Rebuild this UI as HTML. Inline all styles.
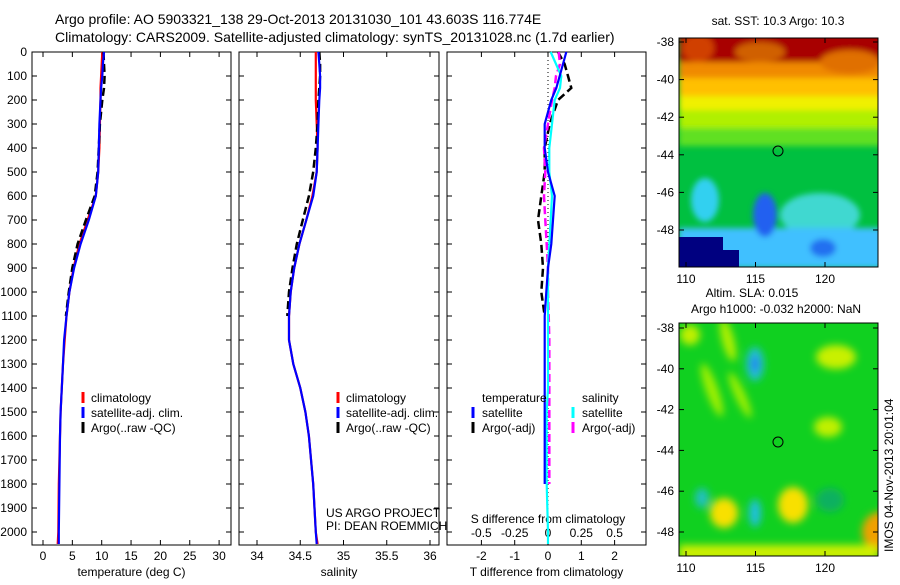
<!DOCTYPE html>
<html><head><meta charset="utf-8">
<style>
body{margin:0;background:#fff;}
svg text{font-family:"Liberation Sans",sans-serif;fill:#000;}
</style></head>
<body>
<svg id="fig" width="900" height="580" viewBox="0 0 900 580" xmlns="http://www.w3.org/2000/svg">
<defs>
<filter id="blur1" x="-20%" y="-20%" width="140%" height="140%"><feGaussianBlur stdDeviation="3"/></filter>
<filter id="blur2" x="-20%" y="-20%" width="140%" height="140%"><feGaussianBlur stdDeviation="4"/></filter>
<clipPath id="c1"><rect x="679" y="38" width="199" height="229"/></clipPath>
<clipPath id="c2"><rect x="679" y="323" width="199" height="233"/></clipPath>
</defs>
<text x="55" y="24" font-size="14">Argo profile: AO 5903321_138 29-Oct-2013 20131030_101 43.603S 116.774E</text>
<text x="55" y="42" font-size="14">Climatology: CARS2009. Satellite-adjusted climatology: synTS_20131028.nc (1.7d earlier)</text>

<g clip-path="url(#c1)">
 <rect x="679" y="38" width="199" height="229" fill="#00c040"/>
 <g filter="url(#blur1)">
  <rect x="679" y="30" width="210" height="50" fill="#a80000"/>
  <rect x="679" y="62" width="210" height="20" fill="#f08a00"/>
  <rect x="679" y="78" width="210" height="22" fill="#ffc000"/>
  <rect x="679" y="96" width="210" height="18" fill="#f0f000"/>
  <rect x="679" y="110" width="210" height="22" fill="#b0f000"/>
  <rect x="679" y="128" width="210" height="18" fill="#60e020"/>
  <ellipse cx="698" cy="48" rx="16" ry="14" fill="#d04000"/>
  <ellipse cx="760" cy="52" rx="25" ry="10" fill="#d06000"/>
  <ellipse cx="850" cy="62" rx="30" ry="12" fill="#e07000"/>
  <ellipse cx="705" cy="200" rx="14" ry="22" fill="#30d0f0"/>
  <ellipse cx="820" cy="215" rx="40" ry="22" fill="#40d8d0"/>
  <rect x="679" y="228" width="210" height="40" fill="#40c0ff"/>
  <ellipse cx="765" cy="215" rx="12" ry="22" fill="#2060f0"/>
  <ellipse cx="823" cy="248" rx="13" ry="9" fill="#2070f0"/>
 </g>
 <rect x="679" y="237" width="44" height="30" fill="#000080"/>
 <rect x="679" y="250" width="60" height="17" fill="#000080"/>
</g>
<rect x="679" y="38" width="199" height="229" fill="none" stroke="#000"/>
<circle cx="778" cy="151" r="5" fill="none" stroke="#000"/>
<text x="778" y="25" font-size="12" text-anchor="middle">sat. SST: 10.3 Argo: 10.3</text>

<g clip-path="url(#c2)">
 <rect x="679" y="323" width="199" height="233" fill="#10d020"/>
 <g filter="url(#blur2)">
  <ellipse cx="755" cy="364" rx="9" ry="17" fill="#20c0d0"/>
  <ellipse cx="755" cy="364" rx="4" ry="8" fill="#2080f0"/>
  <ellipse cx="728" cy="340" rx="6" ry="22" fill="#b0f000" transform="rotate(-15 728 340)"/>
  <ellipse cx="712" cy="390" rx="6" ry="28" fill="#a0f000" transform="rotate(-20 712 390)"/>
  <ellipse cx="740" cy="395" rx="5" ry="25" fill="#a0f000" transform="rotate(-25 740 395)"/>
  <ellipse cx="836" cy="357" rx="20" ry="12" fill="#c8f000"/>
  <ellipse cx="828" cy="427" rx="14" ry="10" fill="#c0f000"/>
  <ellipse cx="724" cy="513" rx="14" ry="15" fill="#f8e000"/>
  <ellipse cx="793" cy="505" rx="15" ry="18" fill="#f8e000"/>
  <ellipse cx="880" cy="532" rx="18" ry="20" fill="#f0a000"/>
  <ellipse cx="755" cy="513" rx="6" ry="14" fill="#20c0e0"/>
  <ellipse cx="702" cy="498" rx="7" ry="10" fill="#20c0c0"/>
  <ellipse cx="893" cy="502" rx="10" ry="10" fill="#20c0b0"/>
  <rect x="679" y="545" width="199" height="15" fill="#d0f000"/>
  <ellipse cx="830" cy="500" rx="14" ry="12" fill="#10b060"/>
  <ellipse cx="690" cy="335" rx="10" ry="10" fill="#c0f000"/>
 </g>
</g>
<rect x="679" y="323" width="199" height="233" fill="none" stroke="#000"/>
<circle cx="778" cy="442" r="5" fill="none" stroke="#000"/>
<text x="752" y="297" font-size="12" text-anchor="middle">Altim. SLA: 0.015</text>
<text x="776" y="313" font-size="12" text-anchor="middle">Argo h1000: -0.032 h2000: NaN</text>
<text x="0" y="0" font-size="12" transform="translate(893 552) rotate(-90)">IMOS 04-Nov-2013 20:01:04</text>

<text x="326" y="517" font-size="12">US ARGO PROJECT</text>
<text x="326" y="530" font-size="12">PI: DEAN ROEMMICH</text>
<g id="plots"></g>
</svg>
<script>
// ---- data ----
const depths = [0,50,100,150,200,300,400,500,600,700,800,900,1000,1100,1200,1300,1400,1500,1600,1800,2000,2050];
const tempClim = [10.1,10.0,9.9,9.8,9.8,9.7,9.6,9.4,9.0,7.6,6.2,5.2,4.5,4.0,3.7,3.4,3.2,3.0,2.9,2.7,2.6,2.5];
const tempSat  = [10.4,10.2,10.1,9.9,9.8,9.6,9.5,9.4,9.0,7.8,6.4,5.3,4.5,4.0,3.6,3.4,3.2,3.0,2.9,2.8,2.7,2.7];
const tempArgo = [10.3,10.4,10.5,10.4,10.1,9.7,9.5,9.3,8.8,7.3,5.9,5.0,4.4,3.9];
const salClim = [34.68,34.68,34.68,34.68,34.68,34.69,34.70,34.69,34.64,34.57,34.49,34.43,34.39,34.37,34.37,34.42,34.50,34.56,34.60,34.65,34.68,34.70];
const salSat  = [34.71,34.72,34.73,34.73,34.72,34.71,34.70,34.69,34.65,34.57,34.49,34.43,34.39,34.37,34.37,34.42,34.50,34.56,34.60,34.65,34.68,34.69];
const salArgo = [34.72,34.73,34.73,34.72,34.71,34.70,34.68,34.65,34.60,34.53,34.46,34.41,34.37,34.35];
const dT_sat  = [0.55,0.45,0.35,0.25,0.1,-0.1,-0.1,0.0,0.2,0.15,0.1,0.0,-0.05,-0.1,-0.1,-0.1,-0.1,-0.1,-0.1,-0.1];
const dT_argo = [0.3,0.5,0.6,0.7,0.3,0.05,-0.1,-0.1,-0.2,-0.3,-0.2,-0.15,-0.2,-0.1];
const dS_sat  = [0.02,0.06,0.1,0.09,0.05,0.03,0.01,0.01,0.03,0.02,0.01,0.0,0.0,0.0,0.0,0.0,0.0,-0.01,-0.01,-0.01,0.0,0.0];
const dS_argo = [0.08,0.09,0.06,0.05,0.03,0.0,-0.03,-0.02,-0.03,-0.02,-0.01,0.0,0.0,0.005,0.01,0.01,0.01,0.01,0.01,0.01];
const depthTicks = [0,100,200,300,400,500,600,700,800,900,1000,1100,1200,1300,1400,1500,1600,1700,1800,1900,2000];
const tempTicks = [0,5,10,15,20,25,30];
const salTicks = [34,34.5,35,35.5,36];
const tdTicks = [-2,-1,0,1,2];
const sdTicks = [-0.5,-0.25,0,0.25,0.5];
const latTicks = [-38,-40,-42,-44,-46,-48];
const lonTicks = [110,115,120];
// ---- axes ----
const yD = d => 52 + d*0.24;
const xT = v => 43 + v*5.87;
const xS = v => 257 + (v-34)*86.5;
const xTD = v => 548 + v*33.3;
const xSD = v => 548 + v*133.2;
const NS='http://www.w3.org/2000/svg';
const root=document.getElementById('plots');
function mk(tag,attrs,parent){const e=document.createElementNS(NS,tag);for(const k in attrs)e.setAttribute(k,attrs[k]);(parent||root).appendChild(e);return e;}
function line(xs,ds,xf,color,dash,name){
  const pts=xs.map((v,i)=>xf(v).toFixed(1)+','+yD(ds[i]).toFixed(1)).join(' ');
  const e=mk('polyline',{points:pts,fill:'none',stroke:color,'stroke-width':dash?2.5:2.2});
  if(dash)e.setAttribute('stroke-dasharray',dash);
  
  
}
function panel(x0,x1,xticks,xf,fmt,label,name){
  const g=mk('g',{});
  
  
  mk('rect',{x:x0,y:52,width:x1-x0,height:493,fill:'none',stroke:'#000'},g);
  depthTicks.forEach(d=>{mk('line',{x1:x0,x2:x0+5,y1:yD(d),y2:yD(d),stroke:'#000'},g);mk('line',{x1:x1-5,x2:x1,y1:yD(d),y2:yD(d),stroke:'#000'},g);});
  xticks.forEach(v=>{const x=xf(v);mk('line',{x1:x,x2:x,y1:52,y2:57,stroke:'#000'},g);mk('line',{x1:x,x2:x,y1:540,y2:545,stroke:'#000'},g);
    const t=mk('text',{x:x,y:560,'font-size':12,'text-anchor':'middle'},g);t.textContent=fmt(v);});
  const t=mk('text',{x:(x0+x1)/2,y:576,'font-size':12,'text-anchor':'middle'},g);t.textContent=label;
  return g;
}
panel(32,231,tempTicks,xT,v=>v,'temperature (deg C)','temperature-panel');
panel(239,439,salTicks,xS,v=>v,'salinity','salinity-panel');
panel(447,646,tdTicks,xTD,v=>v,'T difference from climatology','difference-panel');
depthTicks.forEach(d=>{const e=mk('text',{x:27,y:yD(d)+4,'font-size':12,'text-anchor':'end'});e.textContent=d;
  });
mk('line',{x1:xTD(0),x2:xTD(0),y1:52,y2:545,stroke:'#000','stroke-dasharray':'1,3'});
sdTicks.forEach(v=>{const t=mk('text',{x:xSD(v),y:537,'font-size':12,'text-anchor':'middle'});t.textContent=v;
  });
{const t=mk('text',{x:548,y:523,'font-size':12,'text-anchor':'middle'});t.textContent='S difference from climatology';
 }
// series
line(tempClim,depths,xT,'#ff0000',null,'temp-climatology');
line(tempArgo,depths.slice(0,tempArgo.length),xT,'#000','8,4','temp-argo');
line(tempSat,depths,xT,'#0000ff',null,'temp-satellite');
line(salClim,depths,xS,'#ff0000',null,'sal-climatology');
line(salArgo,depths.slice(0,salArgo.length),xS,'#000','8,4','sal-argo');
line(salSat,depths,xS,'#0000ff',null,'sal-satellite');
line(dT_argo,depths.slice(0,dT_argo.length),xTD,'#000','8,4','tdiff-argo');
line(dS_argo,depths.slice(0,dS_argo.length),xSD,'#ff00ff','8,4','sdiff-argo');
line(dS_sat,depths,xSD,'#00ffff',null,'sdiff-satellite');
line(dT_sat,depths.slice(0,dT_sat.length),xTD,'#0000ff',null,'tdiff-satellite');
// legends
function legend(x,y,items,name){
  const g=mk('g',{});
  items.forEach((it,i)=>{const yy=y+i*15;
    if(it[0])mk('line',{x1:x,x2:x,y1:yy-10,y2:yy+1,stroke:it[0],'stroke-width':3},g);
    const t=mk('text',{x:x+it[2],y:yy,'font-size':12},g);t.textContent=it[1];});
}
legend(83,402,[['#ff0000','climatology',8],['#0000ff','satellite-adj. clim.',8],['#000','Argo(..raw -QC)',8]],'temp-legend');
legend(338,402,[['#ff0000','climatology',8],['#0000ff','satellite-adj. clim.',8],['#000','Argo(..raw -QC)',8]],'sal-legend');
legend(473,402,[[null,'temperature',9],['#0000ff','satellite',9],['#000','Argo(-adj)',9]],'tdiff-legend');
legend(573,402,[[null,'salinity',9],['#00ffff','satellite',9],['#ff00ff','Argo(-adj)',9]],'sdiff-legend');
// map axes
function mapAxes(y0,y1,latY,name){
  const g=mk('g',{});
  latTicks.forEach(l=>{const y=latY(l);mk('line',{x1:679,x2:684,y1:y,y2:y,stroke:'#000'},g);mk('line',{x1:873,x2:878,y1:y,y2:y,stroke:'#000'},g);
    const t=mk('text',{x:674,y:y+4,'font-size':12,'text-anchor':'end'},g);t.textContent=l;});
  lonTicks.forEach(lo=>{const x=686+(lo-110)*13.9;mk('line',{x1:x,x2:x,y1:y0,y2:y0+5,stroke:'#000'},g);mk('line',{x1:x,x2:x,y1:y1-5,y2:y1,stroke:'#000'},g);
    const t=mk('text',{x:x,y:y1+16,'font-size':12,'text-anchor':'middle'},g);t.textContent=lo;});
}
mapAxes(38,267,l=>42+(-38-l)*18.8,'sst-map-axes');
mapAxes(323,556,l=>328+(-38-l)*20.4,'sla-map-axes');
</script>
</body></html>
